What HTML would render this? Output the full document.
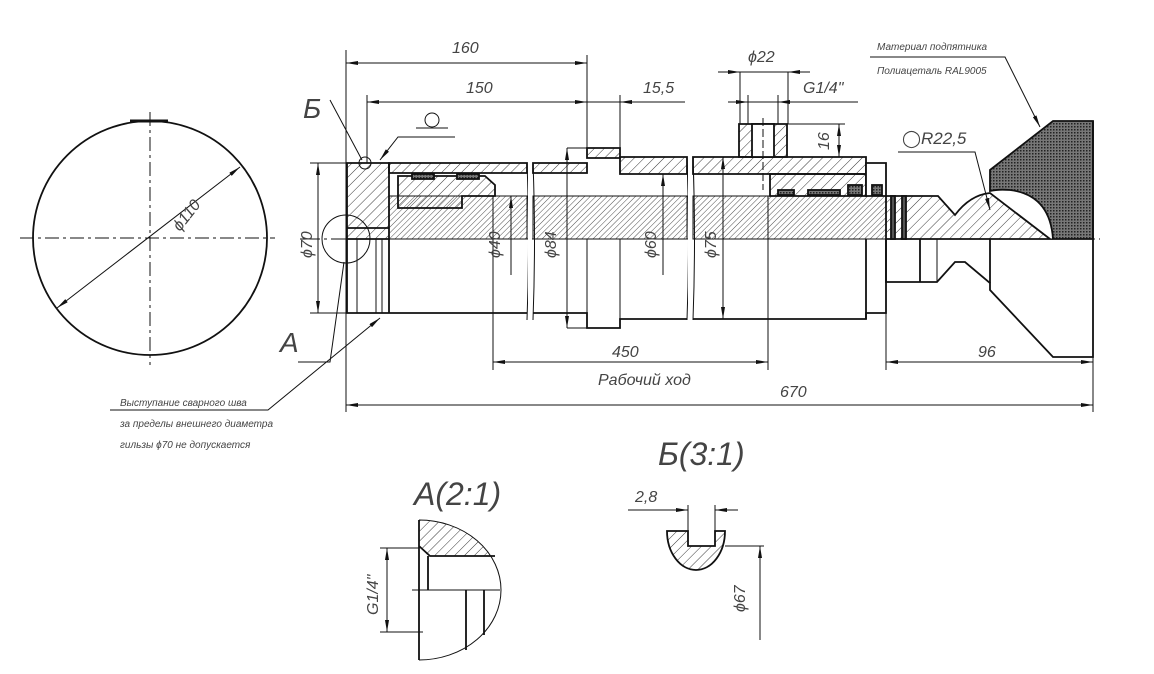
<!DOCTYPE html>
<html><head><meta charset="utf-8"><style>
html,body{margin:0;padding:0;background:#fff;}
svg{display:block;}
text{font-family:"Liberation Sans","DejaVu Sans",sans-serif;font-style:italic;fill:#444;}
</style></head><body>
<svg width="1154" height="674" viewBox="0 0 1154 674" xmlns="http://www.w3.org/2000/svg">
<defs>
<pattern id="h" width="7" height="7" patternUnits="userSpaceOnUse" patternTransform="rotate(45)"><line x1="0" y1="0" x2="0" y2="7" stroke="#222" stroke-width="0.9"/></pattern>
<pattern id="hf" width="4" height="4" patternUnits="userSpaceOnUse" patternTransform="rotate(45)"><line x1="0" y1="0" x2="0" y2="4" stroke="#222" stroke-width="0.8"/></pattern>
<pattern id="x" width="3" height="3" patternUnits="userSpaceOnUse"><rect width="3" height="3" fill="#777"/><rect width="1.5" height="1.5" fill="#222"/></pattern>
<marker id="a" viewBox="0 0 12 4" refX="12" refY="2" markerWidth="12" markerHeight="4" orient="auto-start-reverse" markerUnits="userSpaceOnUse"><path d="M0,0 L12,2 L0,4z" fill="#111"/></marker>
<clipPath id="ca"><path d="M419,520 A82,70 0 0 1 419,660 Z"/></clipPath>
</defs>
<g fill="none" stroke="#111" stroke-width="1">
<circle cx="150" cy="238" r="117" stroke-width="1.8"/>
<line x1="20" y1="238" x2="275" y2="238" stroke-dasharray="14,4,3,4"/>
<line x1="150" y1="112" x2="150" y2="365" stroke-dasharray="14,4,3,4"/>
<line x1="130" y1="121" x2="168" y2="121" stroke-width="3"/>
<line x1="57" y1="308" x2="240" y2="167" marker-start="url(#a)" marker-end="url(#a)"/>
<line x1="300" y1="239" x2="1100" y2="239" stroke-dasharray="20,4,3,4"/>
</g>
<g stroke="#111" stroke-width="1.8">
<path d="M347,163 H389 V239 H347 Z" fill="url(#h)"/>
<path d="M389,163 H527 V173 H389 Z" fill="url(#h)"/>
<path d="M533,163 H587 V173 H533 Z" fill="url(#h)"/>
<path d="M587,148 H620 V158 H587 Z" fill="url(#h)"/>
<path d="M620,157 H687 V174 H620 Z" fill="url(#h)"/>
<path d="M693,157 H866 V174 H693 Z" fill="url(#h)"/>
<path d="M739,124 H787 V157 H739 Z" fill="url(#h)"/>
<rect x="752" y="124" width="22" height="33" fill="#fff"/>
<path d="M389,196 H527 V239 H389 Z" fill="url(#hf)" stroke-width="1"/>
<path d="M533,196 H687 V239 H533 Z" fill="url(#hf)" stroke-width="1"/>
<path d="M693,196 H886 V239 H693 Z" fill="url(#hf)" stroke-width="1"/>
<path d="M398,176 H485 L495,185 V196 H462 V208 H398 Z" fill="url(#h)"/>
<path d="M770,174 H866 V196 H770 Z" fill="url(#h)"/>
<path d="M866,163 H886 V196 H866 Z" fill="#fff"/>
<rect x="412" y="174" width="22" height="5" fill="url(#x)"/>
<rect x="457" y="174" width="22" height="5" fill="url(#x)"/>
<rect x="778" y="190" width="16" height="5" fill="url(#x)"/>
<rect x="808" y="190" width="32" height="5" fill="url(#x)"/>
<rect x="848" y="185" width="14" height="10" fill="url(#x)"/>
<rect x="872" y="185" width="10" height="10" fill="url(#x)"/>
<path d="M886,196 H938 L955,215 Q970,195 990,193 L1050,239 H886 Z" fill="url(#h)"/>
<rect x="891" y="196" width="4" height="43" fill="#555"/>
<rect x="902" y="196" width="4" height="43" fill="#555"/>
<path d="M990,191 V170 L1053,121 H1093 V239 H1053 Q1050,195 1010,190 Q998,189 990,191 Z" fill="url(#x)"/>
</g>
<g fill="none" stroke="#111" stroke-width="1.8">
<path d="M347,239 V313 H527"/>
<path d="M533,313 H587 V328 H620 V319 H687"/>
<path d="M693,319 H866 V313 H886 V239"/>
<line x1="389" y1="239" x2="389" y2="313"/>
<line x1="347" y1="228" x2="389" y2="228"/>
<line x1="357" y1="239" x2="357" y2="313" stroke-width="1"/>
<line x1="376" y1="239" x2="376" y2="313" stroke-width="1"/>
<line x1="382" y1="239" x2="382" y2="313" stroke-width="1"/>
<line x1="587" y1="239" x2="587" y2="328" stroke-width="1"/>
<line x1="620" y1="239" x2="620" y2="328" stroke-width="1"/>
<line x1="866" y1="239" x2="866" y2="319"/>
<path d="M886,239 V282 H920 V239 M920,282 H937 L955,262 H965 L990,283 V290 L1053,357 H1093 V121"/>
<line x1="937" y1="239" x2="937" y2="282" stroke-width="1"/>
<line x1="990" y1="239" x2="990" y2="283"/>
<path d="M527,163 Q530,240 527,320 M533,163 Q536,240 533,320 M687,157 Q690,240 687,320 M693,157 Q696,240 693,320" stroke-width="1"/>
</g>
<g fill="#fff" stroke="none"><rect x="528" y="150" width="4" height="175"/><rect x="688" y="150" width="4" height="175"/></g>
<g fill="none" stroke="#111" stroke-width="1">
<circle cx="346" cy="239" r="24"/>
<circle cx="365" cy="163" r="6"/>
<line x1="330" y1="100" x2="362" y2="160"/>
<line x1="346" y1="50" x2="346" y2="412"/>
<line x1="346" y1="63" x2="587" y2="63" marker-start="url(#a)" marker-end="url(#a)"/>
<line x1="587" y1="55" x2="587" y2="148"/>
<line x1="367" y1="95" x2="367" y2="163"/>
<line x1="367" y1="102" x2="587" y2="102" marker-start="url(#a)" marker-end="url(#a)"/>
<line x1="587" y1="102" x2="685" y2="102"/>
<line x1="620" y1="102" x2="640" y2="102" marker-start="url(#a)"/>
<line x1="620" y1="95" x2="620" y2="148"/>
<circle cx="432" cy="120" r="7"/>
<line x1="416" y1="128" x2="448" y2="128"/>
<path d="M455,137 H398 L380,160" marker-end="url(#a)"/>
<line x1="740" y1="72" x2="740" y2="124"/><line x1="788" y1="72" x2="788" y2="124"/>
<line x1="718" y1="72" x2="740" y2="72" marker-end="url(#a)"/>
<line x1="740" y1="72" x2="788" y2="72"/>
<line x1="810" y1="72" x2="788" y2="72" marker-end="url(#a)"/>
<line x1="748" y1="95" x2="748" y2="124"/><line x1="778" y1="95" x2="778" y2="124"/>
<line x1="728" y1="102" x2="748" y2="102" marker-end="url(#a)"/>
<line x1="800" y1="102" x2="778" y2="102" marker-end="url(#a)"/>
<line x1="748" y1="102" x2="858" y2="102"/>
<line x1="787" y1="124" x2="845" y2="124"/>
<line x1="839" y1="124" x2="839" y2="157" marker-start="url(#a)" marker-end="url(#a)"/>
<line x1="763" y1="118" x2="763" y2="190" stroke-dasharray="8,3"/>
<line x1="310" y1="163" x2="347" y2="163"/><line x1="310" y1="313" x2="347" y2="313"/>
<line x1="318" y1="163" x2="318" y2="313" marker-start="url(#a)" marker-end="url(#a)"/>
<line x1="493" y1="196" x2="493" y2="370"/>
<line x1="511" y1="196" x2="511" y2="275" marker-start="url(#a)"/>
<line x1="567" y1="148" x2="587" y2="148"/><line x1="567" y1="328" x2="587" y2="328"/>
<line x1="567" y1="148" x2="567" y2="328" marker-start="url(#a)" marker-end="url(#a)"/>
<line x1="663" y1="174" x2="663" y2="275" marker-start="url(#a)"/>
<line x1="723" y1="157" x2="723" y2="319" marker-start="url(#a)" marker-end="url(#a)"/>
<line x1="768" y1="196" x2="768" y2="370"/>
<line x1="493" y1="362" x2="768" y2="362" marker-start="url(#a)" marker-end="url(#a)"/>
<line x1="886" y1="313" x2="886" y2="370"/>
<line x1="1093" y1="357" x2="1093" y2="412"/>
<line x1="886" y1="362" x2="1093" y2="362" marker-start="url(#a)" marker-end="url(#a)"/>
<line x1="346" y1="405" x2="1093" y2="405" marker-start="url(#a)" marker-end="url(#a)"/>
<path d="M870,57 H1005 L1040,127" marker-end="url(#a)"/>
<path d="M898,152 H975 L990,210" marker-end="url(#a)"/>
<path d="M298,362 H330 L344,262"/>
<path d="M110,410 H268 L380,318" marker-end="url(#a)"/>
<!-- detail A -->
<path d="M419,520 A82,70 0 0 1 419,660" stroke-width="1"/>
<rect x="419" y="518" width="90" height="38" fill="url(#h)" stroke="none" clip-path="url(#ca)"/>
<path d="M428,556 H419 V546 Z" fill="#fff" stroke="none"/>
<path d="M419,520 V660 M419,546 L430,556 H495 M428,556 V590 M466,590 V650 M484,590 V635" stroke-width="1.8"/>
<line x1="380" y1="548" x2="419" y2="548"/><line x1="380" y1="632" x2="423" y2="632"/>
<line x1="412" y1="590" x2="500" y2="590"/>
<line x1="387" y1="548" x2="387" y2="632" marker-start="url(#a)" marker-end="url(#a)"/>
<!-- detail B -->
<path d="M667,531 H688 V546 H715 V531 H725 A29,39 0 0 1 667,531 Z" fill="url(#h)" stroke-width="1.8"/>
<line x1="688" y1="505" x2="688" y2="531"/><line x1="715" y1="505" x2="715" y2="531"/>
<line x1="628" y1="510" x2="688" y2="510" marker-end="url(#a)"/>
<line x1="738" y1="510" x2="715" y2="510" marker-end="url(#a)"/>
<line x1="725" y1="546" x2="764" y2="546"/>
<line x1="760" y1="640" x2="760" y2="546" marker-end="url(#a)"/>
</g>
<g font-size="16">
<text x="452" y="53">160</text>
<text x="466" y="93">150</text>
<text x="643" y="93">15,5</text>
<text x="748" y="62">ϕ22</text>
<text x="803" y="93">G1/4"</text>
<text x="902" y="144" font-size="17">◯R22,5</text>
<text x="612" y="357">450</text>
<text x="598" y="385">Рабочий ход</text>
<text x="780" y="397">670</text>
<text x="978" y="357">96</text>
<text x="303" y="118" font-size="28">Б</text>
<text x="280" y="352" font-size="28">A</text>
<text x="414" y="505" font-size="32">A(2:1)</text>
<text x="658" y="465" font-size="32">Б(3:1)</text>
<text x="635" y="502">2,8</text>
<text transform="translate(180,232) rotate(-52)">ϕ110</text>
<text transform="translate(312,258) rotate(-90)">ϕ70</text>
<text transform="translate(500,258) rotate(-90)">ϕ40</text>
<text transform="translate(556,258) rotate(-90)">ϕ84</text>
<text transform="translate(656,258) rotate(-90)">ϕ60</text>
<text transform="translate(716,258) rotate(-90)">ϕ75</text>
<text transform="translate(829,150) rotate(-90)">16</text>
<text transform="translate(378,615) rotate(-90)">G1/4"</text>
<text transform="translate(745,612) rotate(-90)">ϕ67</text>
</g>
<g font-size="10">
<text x="877" y="50">Материал подпятника</text>
<text x="877" y="74">Полиацеталь RAL9005</text>
<text x="120" y="406">Выступание сварного шва</text>
<text x="120" y="427">за пределы внешнего диаметра</text>
<text x="120" y="448">гильзы ϕ70 не допускается</text>
</g>
</svg>
</body></html>
